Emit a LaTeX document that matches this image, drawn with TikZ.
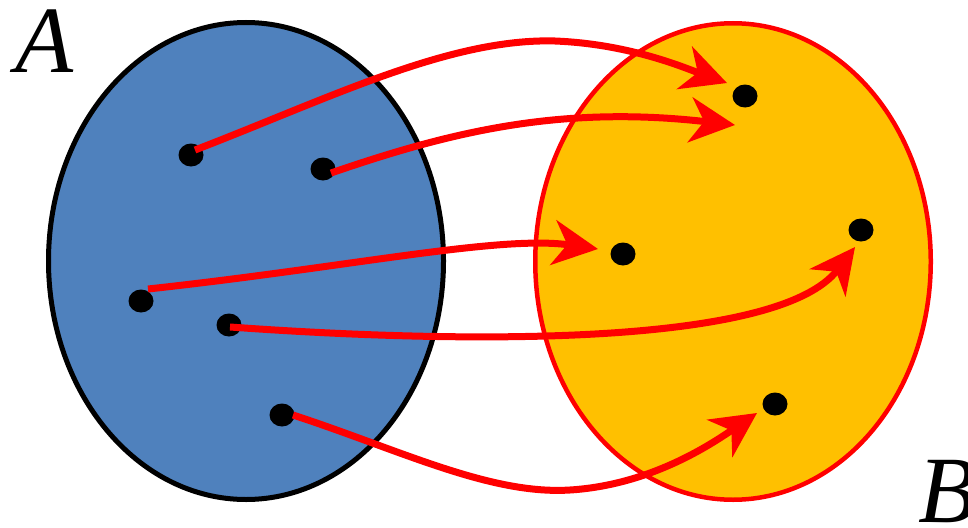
\documentclass[tikz,border=0pt]{standalone}
\usepackage{fontspec}
\setmainfont{Liberation Serif}
\usetikzlibrary{shapes.geometric,arrows.meta}
\definecolor{setblue}{HTML}{4F81BD}
\definecolor{setyellow}{HTML}{FFC000}
\definecolor{mapred}{HTML}{FF0000}
\tikzset{
  dot/.style={ellipse,fill=black,minimum width=25pt,minimum height=23pt,inner sep=0pt},
  maparrow/.style={draw=mapred,line width=7pt,-{Stealth[length=45pt,width=45pt,inset=14pt]}},
  setlabel/.style={font=\fontsize{95}{95}\selectfont\itshape,inner sep=0pt}
}
\begin{document}
\begin{tikzpicture}[x=1pt,y=-1pt]
\useasboundingbox (0,0) rectangle (968,527);
% sets
\node (setA) [ellipse,draw=black,line width=5pt,fill=setblue,minimum width=395pt,minimum height=477pt,inner sep=0pt] at (246,261) {};
\node (setB) [ellipse,draw=mapred,line width=4.5pt,fill=setyellow,minimum width=395.5pt,minimum height=476.5pt,inner sep=0pt] at (733,261.5) {};
% labels
\node (la) [setlabel,anchor=base] at (45,73) {A};
\node (lb) [setlabel,anchor=base west] at (918,522) {B};
% points of A
\node (a1) [dot] at (191,155) {};
\node (a2) [dot] at (323,169) {};
\node (a3) [dot] at (141,301) {};
\node (a4) [dot] at (229,325) {};
\node (a5) [dot] at (282,415) {};
% points of B
\node (b1) [dot] at (745,96) {};
\node (b3) [dot] at (623,254) {};
\node (b4) [dot] at (861,230) {};
\node (b5) [dot] at (775,404) {};
% arrow tips and waypoints
\coordinate (t1) at (727,83);
\coordinate (t2) at (735,125);
\coordinate (t3) at (598,249);
\coordinate (t4) at (855,247);
\coordinate (t5) at (757,413);
\coordinate (w1) at (555,41);
\coordinate (w5) at (570,490);
% arrows
\draw[maparrow] ([xshift=4pt,yshift=5pt]a1.center) .. controls (330,98) and (450,38) .. (w1) .. controls (630,44) and (685,68) .. (t1);
\draw[maparrow] ([xshift=8pt,yshift=-4pt]a2.center) .. controls (450,132) and (560,105) .. (t2);
\draw[maparrow] ([xshift=7pt,yshift=12pt]a3.center) .. controls (350,267) and (500,235) .. (t3);
\draw[maparrow] ([xshift=1pt,yshift=-2pt]a4.center) .. controls (480,345) and (780,345) .. (t4);
\draw[maparrow] ([xshift=11pt]a5.center) .. controls (400,450) and (490,495) .. (w5) .. controls (650,485) and (710,445) .. (t5);
\end{tikzpicture}
\end{document}
